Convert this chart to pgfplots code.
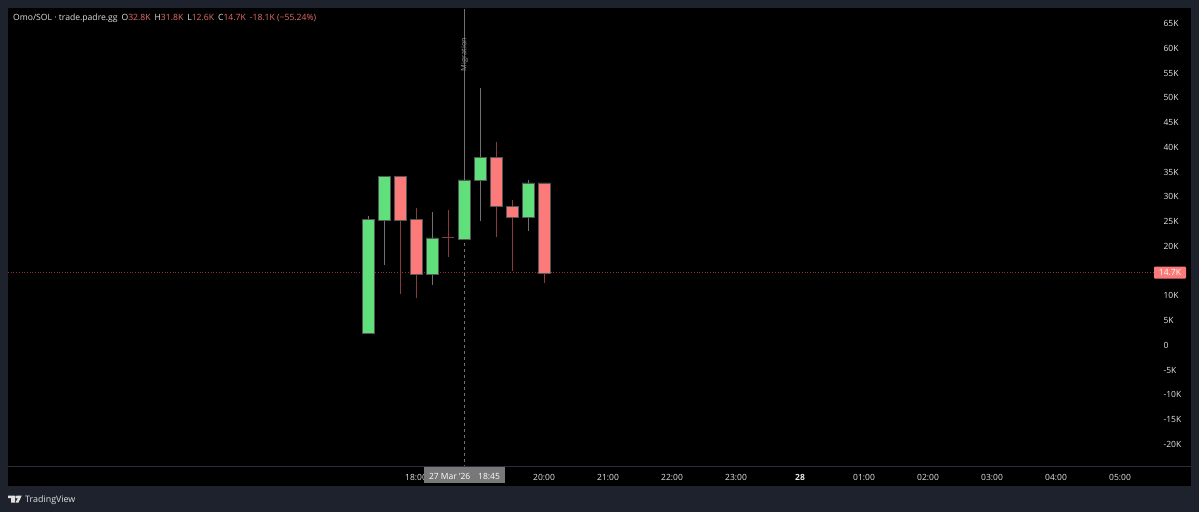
\documentclass[border=0pt]{standalone}
\usepackage{pgfplots}
\usepackage{pgfplotstable}
\usepackage{fontspec}
\setmainfont{Open Sans}
\pgfplotsset{compat=1.18}
\definecolor{tvbg}{HTML}{1E222D}
\definecolor{tvsep}{HTML}{2A2E39}
\definecolor{tvgreen}{HTML}{5FE07A}
\definecolor{tvred}{HTML}{FD7A7A}
\definecolor{tvedge}{HTML}{555555}
\definecolor{wickg}{HTML}{707070}
\definecolor{wickr}{HTML}{8A3C3C}
\definecolor{priceline}{HTML}{8A3434}
\definecolor{hdr}{HTML}{E0E0E0}
\definecolor{hdrred}{HTML}{E86C6C}
\definecolor{lab}{HTML}{E6E6E6}
\definecolor{tagg}{HTML}{787878}
\definecolor{migr}{HTML}{949494}
% candle positions: minutes since 00:00 on 27 Mar
\pgfplotstableread{
x y
1035 2.4
1035 26.1
nan nan
1050 16.2
1050 34.1
nan nan
1095 12.2
1095 26.9
nan nan
1125 21.5
1125 68
nan nan
1140 25.05
1140 52
nan nan
1185 23
1185 33.4
}\wicksgreen
\pgfplotstableread{
x y
1065 10.4
1065 34.06
nan nan
1080 9.55
1080 27.7
nan nan
1110 17.8
1110 27.3
nan nan
1155 21.8
1155 41
nan nan
1170 15.1
1170 29.4
nan nan
1200 12.65
1200 32.8
nan nan
1104.8 21.7
1115.2 21.7
}\wicksred
\pgfplotstableread{
x y
1029.6 2.4
1040.4 2.4
1040.4 25.45
1029.6 25.45
1029.6 2.4
nan nan
1044.6 25.3
1055.4 25.3
1055.4 34.06
1044.6 34.06
1044.6 25.3
nan nan
1089.6 14.4
1100.4 14.4
1100.4 21.7
1089.6 21.7
1089.6 14.4
nan nan
1119.6 21.5
1130.4 21.5
1130.4 33.4
1119.6 33.4
1119.6 21.5
nan nan
1134.6 33.3
1145.4 33.3
1145.4 38
1134.6 38
1134.6 33.3
nan nan
1179.6 25.8
1190.4 25.8
1190.4 32.8
1179.6 32.8
1179.6 25.8
}\bodiesgreen
\pgfplotstableread{
x y
1059.6 25.3
1070.4 25.3
1070.4 34.06
1059.6 34.06
1059.6 25.3
nan nan
1074.6 14.4
1085.4 14.4
1085.4 25.45
1074.6 25.45
1074.6 14.4
nan nan
1149.6 28
1160.4 28
1160.4 38
1149.6 38
1149.6 28
nan nan
1164.6 25.8
1175.4 25.8
1175.4 28.1
1164.6 28.1
1164.6 25.8
nan nan
1194.6 14.6
1205.4 14.6
1205.4 32.8
1194.6 32.8
1194.6 14.6
}\bodiesred
\begin{document}
\begin{tikzpicture}[x=1pt,y=1pt]
\fill[tvbg] (0,0) rectangle (1199,512);
\begin{axis}[
  at={(8pt,26pt)},anchor=south west,
  width=1183pt,height=478pt,scale only axis,
  xmin=697.5,xmax=1806.56,
  ymin=-28.42,ymax=68.14,
  axis background/.style={fill=black},
  axis line style={draw=none},
  tick style={draw=none},
  unbounded coords=jump,
  clip=true,
  ytick={-20,-15,-10,-5,0,5,10,20,25,30,35,40,45,50,55,60,65},
  yticklabels={-20K,-15K,-10K,-5K,0,5K,10K,20K,25K,30K,35K,40K,45K,50K,55K,60K,65K},
  yticklabel pos=right,
  yticklabel style={anchor=west,font=\fontsize{8.5}{10}\selectfont,text=lab,xshift=-31pt,
    /pgf/number format/assume math mode=true},
  xtick={1080,1200,1260,1320,1380,1440,1500,1560,1620,1680,1740},
  xticklabels={18:00,20:00,21:00,22:00,23:00,\textbf{28},01:00,02:00,03:00,04:00,05:00},
  xticklabel style={anchor=center,font=\fontsize{8.5}{10}\selectfont,text=lab,yshift=9pt},
]
% price line and crosshair
\addplot[priceline,line width=0.7pt,dotted] coordinates {(697.5,14.7) (1771,14.7)};
\addplot[wickg,line width=0.8pt,dash pattern=on 3pt off 3pt] coordinates {(1125,68) (1125,-24.4)};
% wicks
\addplot[wickg,line width=1pt] table {\wicksgreen};
\addplot[wickr,line width=1pt] table {\wicksred};
% bodies
\addplot[draw=tvedge,fill=tvgreen,line width=0.5pt] table {\bodiesgreen};
\addplot[draw=tvedge,fill=tvred,line width=0.5pt] table {\bodiesred};
\end{axis}
% time-scale separator
\draw[tvsep,line width=1pt] (8,46) -- (1191,46);
% header
\node[anchor=west,inner sep=0pt,font=\fontsize{8.6}{10}\selectfont,text=hdr] at (13,494)
  {Omo/SOL · trade.padre.gg\hspace{4pt}O\textcolor{hdrred}{32.8K}\hspace{4pt}H\textcolor{hdrred}{31.8K}\hspace{4pt}L\textcolor{hdrred}{12.6K}\hspace{4pt}C\textcolor{hdrred}{14.7K}\hspace{4pt}\textcolor{hdrred}{-18.1K (−55.24\%)}};
% migration marker
\node[rotate=90,inner sep=0pt,font=\fontsize{7.5}{9}\selectfont,text=migr] at (464.5,457.5) {Migration};
% crosshair time tag
\fill[tagg] (424,29) rectangle (505,45.5);
\node[inner sep=0pt,font=\fontsize{8.5}{10}\selectfont,text=white] at (464.5,35.5) {27 Mar '26\hspace{8pt}18:45};
% last price tag
\fill[tvred,rounded corners=1pt] (1154,233.3) rectangle (1186,245.3);
\node[inner sep=0pt,font=\fontsize{8.5}{10}\selectfont,text=white] at (1170,239.2) {14.7K};
% branding
\fill[hdr] (8,16.5) rectangle (15,14) (11,14) rectangle (15,9.5);
\fill[hdr] (16.6,15) circle (1.4);
\fill[hdr] (17,16.5) -- (21.8,16.5) -- (18.5,9.5) -- (15.5,9.5) -- (17.4,13) -- cycle;
\node[anchor=west,inner sep=0pt,font=\fontsize{8.9}{11}\selectfont,text=hdr] at (25,12) {TradingView};
\end{tikzpicture}
\end{document}
